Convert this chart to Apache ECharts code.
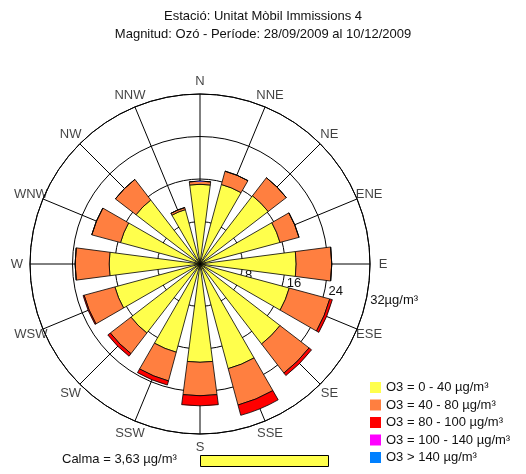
<!DOCTYPE html>
<html>
<head>
<meta charset="utf-8">
<script src="https://cdn.jsdelivr.net/npm/echarts@6/dist/echarts.min.js"></script>
<style>
  html, body { margin: 0; padding: 0; background: #fff; }
  #chart { width: 526px; height: 474px; }
</style>
</head>
<body>
<div id="chart"></div>
<script>
// rosa de concentracions, valors en µg/m³ per direccio
const directions = ['N', 'NNE', 'NE', 'ENE', 'E', 'ESE', 'SE', 'SSE', 'S', 'SSW', 'SW', 'WSW', 'W', 'WNW', 'NW', 'NNW']
const o3_0_40 = [15.0, 15.5, 16.2, 15.6, 18.1, 17.4, 19.0, 20.4, 18.5, 17.2, 16.4, 16.6, 17.1, 15.5, 15.2, 10.6]
const o3_40_80 = [0.6, 2.6, 4.3, 3.7, 6.7, 7.9, 6.9, 7.1, 6.3, 5.6, 4.9, 6.0, 6.4, 5.6, 4.9, 0.4]
const o3_80_100 = [0, 0, 0, 0, 0, 0.5, 0.6, 2.0, 1.9, 0.8, 0.6, 0.2, 0, 0, 0, 0]
const o3_100_140 = [0, 0, 0, 0, 0, 0, 0, 0, 0, 0, 0, 0, 0, 0, 0, 0]
const o3_over_140 = [0, 0, 0, 0, 0, 0, 0, 0, 0, 0, 0, 0, 0, 0, 0, 0]
const classNames = ['O3 = 0 - 40 µg/m³', 'O3 = 40 - 80 µg/m³', 'O3 = 80 - 100 µg/m³', 'O3 = 100 - 140 µg/m³', 'O3 > 140 µg/m³']
const classColors = ['#ffff4c', '#ff7f40', '#ff0000', '#ff00ff', '#0080ff']
const radiusMax = 32
const radiusStep = 8
const calmaText = 'Calma = 3,63 µg/m³'

const FONT = 'Liberation Sans, Arial, sans-serif'
const CENTER = [200, 264]
const RADIUS = 170
const SECTOR = 360 / directions.length
// etiquetes de direccio centrades una mica fora del cercle exterior
const LABEL_R = radiusMax * 183 / RADIUS

const myChart = echarts.init(document.getElementById('chart'))

const classData = [o3_0_40, o3_40_80, o3_80_100, o3_100_140, o3_over_140]

const series = classData.map((values, i) => ({
    name: classNames[i],
    type: 'bar',
    coordinateSystem: 'polar',
    polarIndex: 0,
    stack: 'o3',
    data: values,
    barCategoryGap: '34%',
    itemStyle: {
        color: classColors[i],
        borderColor: '#000',
        borderWidth: i < 3 ? 0.8 : 0
    },
    emphasis: { disabled: true }
}))

series.push({
    name: 'direccions',
    type: 'scatter',
    coordinateSystem: 'polar',
    polarIndex: 1,
    clip: false,
    silent: true,
    symbolSize: 0,
    data: directions.map((d, i) => [LABEL_R, i * SECTOR]),
    label: {
        show: true,
        position: 'inside',
        fontFamily: FONT,
        fontSize: 13,
        color: '#111',
        formatter: p => directions[p.dataIndex]
    }
})

myChart.setOption({
    animation: false,
    title: {
        text: 'Estació: Unitat Mòbil Immissions 4\nMagnitud: Ozó - Període: 28/09/2009 al 10/12/2009',
        left: 'center',
        top: 7,
        padding: 0,
        textStyle: { fontFamily: FONT, fontSize: 13, fontWeight: 'normal', color: '#111', lineHeight: 18 }
    },
    legend: {
        orient: 'vertical',
        left: 370,
        top: 381,
        padding: 0,
        itemWidth: 11,
        itemHeight: 11,
        itemGap: 4.5,
        icon: 'rect',
        selectedMode: false,
        itemStyle: { borderWidth: 0 },
        textStyle: { fontFamily: FONT, fontSize: 13, color: '#111' },
        data: classNames
    },
    polar: [
        { center: CENTER, radius: RADIUS },
        { center: CENTER, radius: RADIUS },
        { center: CENTER, radius: RADIUS }
    ],
    angleAxis: [
        {
            // barres: cada sector centrat en la seva direccio
            polarIndex: 0,
            type: 'category',
            data: directions,
            startAngle: 90 + SECTOR / 2,
            clockwise: true,
            axisLine: { show: true, lineStyle: { color: '#000', width: 1 } },
            axisTick: { show: false },
            splitLine: { show: false },
            axisLabel: { show: false }
        },
        {
            // radis de cada direccio
            polarIndex: 1,
            type: 'value',
            min: 0,
            max: 360,
            interval: SECTOR,
            startAngle: 90,
            clockwise: true,
            axisLine: { show: false },
            axisTick: { show: false },
            axisLabel: { show: false },
            splitLine: { show: true, lineStyle: { color: '#000', width: 1 } }
        },
        {
            polarIndex: 2,
            type: 'value',
            startAngle: -SECTOR / 2,
            show: false
        }
    ],
    radiusAxis: [
        {
            polarIndex: 0,
            min: 0,
            max: radiusMax,
            interval: radiusStep,
            axisLine: { show: false },
            axisTick: { show: false },
            axisLabel: { show: false },
            splitLine: { show: true, lineStyle: { color: '#000', width: 1 } }
        },
        { polarIndex: 1, show: false, min: 0, max: radiusMax },
        {
            polarIndex: 2,
            min: 0,
            max: radiusMax,
            interval: radiusStep,
            axisLine: { show: false },
            axisTick: { show: false },
            splitLine: { show: false },
            axisLabel: {
                show: true,
                margin: -3,
                padding: [0, 0, 0, 4],
                fontFamily: FONT,
                fontSize: 13,
                color: '#111',
                align: 'left',
                verticalAlign: 'middle',
                formatter: v => v === 0 ? '' : (v === radiusMax ? v + 'µg/m³' : String(v))
            }
        }
    ],
    graphic: [
        {
            type: 'text',
            left: 62,
            top: 453,
            style: { text: calmaText, font: '13px ' + FONT, fill: '#111' }
        },
        {
            type: 'rect',
            left: 200,
            top: 455,
            shape: { width: 128, height: 11 },
            style: { fill: classColors[0], stroke: '#000', lineWidth: 1 }
        }
    ],
    series: series
})
</script>
</body>
</html>
